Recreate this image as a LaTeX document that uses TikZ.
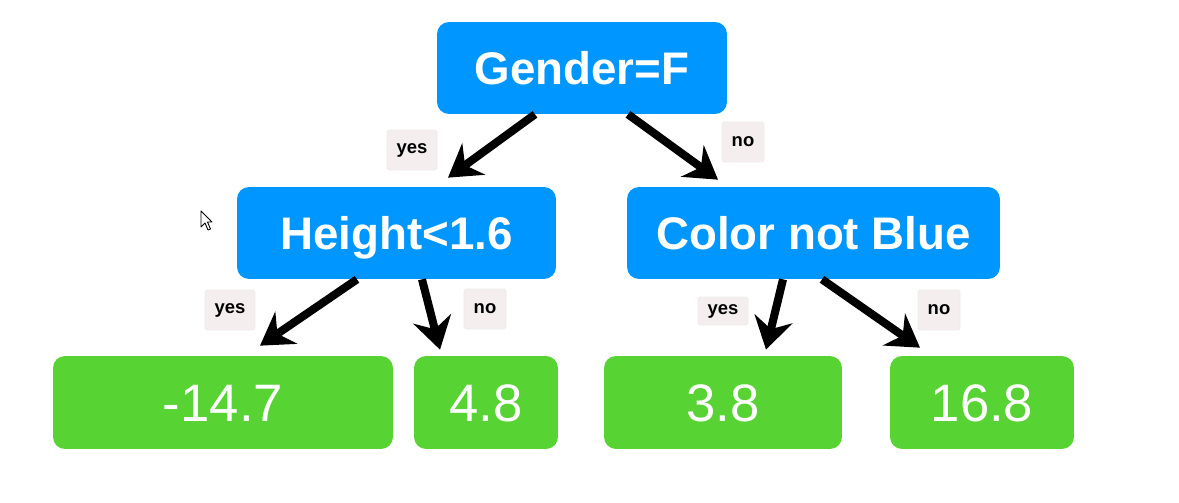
\documentclass[tikz,border=0pt]{standalone}
\usepackage{fontspec}
\setmainfont{Liberation Sans}
\usetikzlibrary{arrows.meta,calc}

\definecolor{splitblue}{RGB}{0,150,255}
\definecolor{leafgreen}{RGB}{88,211,52}
\definecolor{tagfill}{RGB}{244,239,238}

\tikzset{
	split/.style={fill=splitblue,rounded corners=0.24cm,text=white,inner sep=0pt,
		text height=18.7pt,text depth=0pt,
		minimum height=1.84cm,font=\fontsize{26}{30}\selectfont\bfseries},
	leaf/.style={fill=leafgreen,rounded corners=0.24cm,text=white,inner sep=0pt,
		text height=21.6pt,text depth=0pt,
		minimum height=1.86cm,font=\fontsize{30}{34}\selectfont},
	tag/.style={fill=tagfill,draw=black!8,rounded corners=1pt,inner sep=0pt,
		minimum height=0.8cm,font=\fontsize{10.5}{12}\selectfont\bfseries},
	branch/.style={line width=4.6pt,-{Stealth[length=18pt,width=22pt,inset=6pt]}}
}

\begin{document}
\begin{tikzpicture}[x=0.02cm,y=-0.02cm]
		\useasboundingbox (0,0) rectangle (1179,503);
		
		% splits
		\node[split,minimum width=5.8cm] (gender) at (582,68) {Gender=F};
		\node[split,minimum width=6.38cm] (height) at (396.5,233) {Height<1.6};
		\node[split,minimum width=7.46cm] (color) at (813.5,233) {Color not Blue};
		
		% leaves
		\node[leaf,minimum width=6.8cm] (leafa) at (223,402.5) {-14.7};
		\node[leaf,minimum width=2.88cm] (leafb) at (486,402.5) {4.8};
		\node[leaf,minimum width=4.76cm] (leafc) at (723,402.5) {3.8};
		\node[leaf,minimum width=3.68cm] (leafd) at (982,402.5) {16.8};
		
		% branches
		\draw[branch] ($(gender.south)+(-47,0)$) -- ($(height.north)+(51.5,-9)$);
		\draw[branch] ($(gender.south)+(46,0)$) -- ($(color.north)+(-95.5,-7)$);
		\draw[branch] ($(height.south)+(-39.5,0)$) -- ($(leafa.north)+(37,-10)$);
		\draw[branch] ($(height.south)+(25.5,0)$) -- ($(leafb.north)+(-46,-6)$);
		\draw[branch] ($(color.south)+(-30.5,0)$) -- ($(leafc.north)+(43,-6)$);
		\draw[branch] ($(color.south)+(8.5,0)$) -- ($(leafd.north)+(-62,-8)$);
		
		% branch labels
		\node[tag,minimum width=1cm] (yesa) at (412,150) {yes};
		\node[tag,minimum width=0.84cm] (noa) at (743,142) {no};
		\node[tag,minimum width=1cm] (yesb) at (230,310) {yes};
		\node[tag,minimum width=0.84cm] (nob) at (485,309) {no};
		\node[tag,minimum width=1cm,minimum height=0.56cm] (yesc) at (723,311) {yes};
		\node[tag,minimum width=0.84cm] (noc) at (939,310) {no};
		
		% pointer
		\draw[fill=white,line width=0.5pt,line join=round] (201,211) -- (201,227) -- (205,223)
		-- (208,230) -- (210.5,229) -- (207.5,222) -- (212,222) -- cycle;
		
	\end{tikzpicture}
\end{document}
